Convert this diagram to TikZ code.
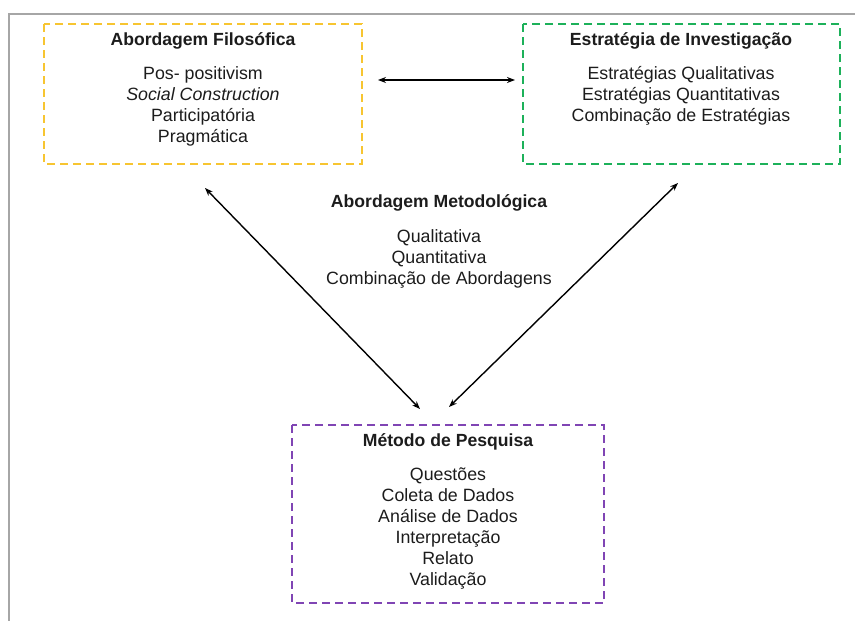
\documentclass[tikz,border=0pt]{standalone}
\usepackage{fontspec}
\setmainfont{Liberation Sans}
\usetikzlibrary{arrows.meta}
\definecolor{boxyellow}{HTML}{F7C531}
\definecolor{boxgreen}{HTML}{1DB15A}
\definecolor{boxpurple}{HTML}{8045B4}
\definecolor{framegray}{HTML}{A6A6A6}
\definecolor{ink}{HTML}{1C1C1C}
\begin{document}
\begin{tikzpicture}[x=1pt,y=-1pt,
  dashbox/.style={draw, line width=1.8pt, dash pattern=on 8pt off 5pt, inner sep=0pt},
  heading/.style={font=\fontsize{17.6}{21}\selectfont\bfseries, text=ink, inner sep=0pt},
  items/.style={font=\fontsize{17.8}{21}\selectfont, text=ink, align=center, inner sep=0pt},
  link/.style={line width=1.4pt, {Stealth[length=8pt,width=6pt]}-{Stealth[length=8pt,width=6pt]}}
]
\useasboundingbox (0,0) rectangle (855,621);
% outer frame (top and left edges)
\draw[framegray, line width=2pt] (8.5,621) -- (8.5,13.5) -- (855,13.5);

% boxes
\draw[dashbox, boxyellow] (44,24) rectangle (362,164);
\draw[dashbox, boxgreen] (523,24) rectangle (840,164);
\draw[dashbox, boxpurple] (292,425) rectangle (604,603);

% Abordagem Filosofica
\node[heading] (filT) at (203,41) {Abordagem Filosófica};
\node[items] (filL) at (203,106.5) {Pos- positivism\\\textit{Social Construction}\\Participatória\\Pragmática};

% Estrategia de Investigacao
\node[heading] (estT) at (681,41) {Estratégia de Investigação};
\node[items] (estL) at (681,96) {Estratégias Qualitativas\\Estratégias Quantitativas\\Combinação de Estratégias};

% Abordagem Metodologica
\node[heading] (metT) at (439,203) {Abordagem Metodológica};
\node[items] (metL) at (439,258.5) {Qualitativa\\Quantitativa\\Combinação de Abordagens};

% Metodo de Pesquisa
\node[heading] (pesT) at (448,442) {Método de Pesquisa};
\node[items] (pesL) at (448,528) {Questões\\Coleta de Dados\\Análise de Dados\\Interpretação\\Relato\\Validação};

% connector end points
\coordinate (hA) at (378,80);
\coordinate (hB) at (515,80);
\coordinate (lA) at (205,188);
\coordinate (lB) at (420,409);
\coordinate (rA) at (678,183);
\coordinate (rB) at (449,407);

\draw[link] (hA) -- (hB);
\draw[link] (lA) -- (lB);
\draw[link] (rA) -- (rB);
\end{tikzpicture}
\end{document}
